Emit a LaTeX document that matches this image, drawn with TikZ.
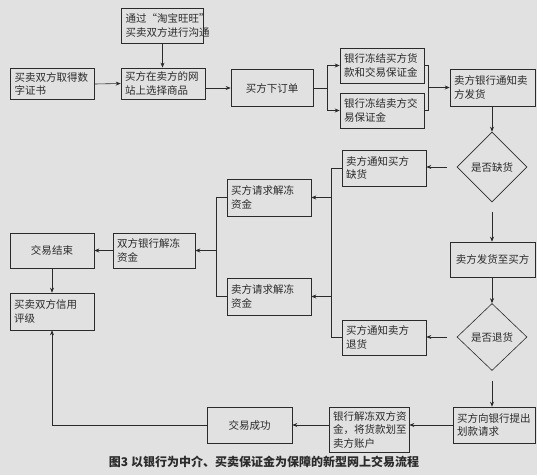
\documentclass[tikz,border=0pt]{standalone}
\usepackage{fontspec}
\setmainfont{Noto Sans CJK SC}
\usetikzlibrary{shapes.geometric,arrows.meta}
\definecolor{flInk}{HTML}{2B2B2B}
\definecolor{flPaper}{HTML}{E1E1E1}
\tikzset{
	box/.style={draw=flInk, line width=0.6pt, minimum height=35pt, inner sep=4pt,
		text width=76pt, align=left, text=flInk, font=\fontsize{10.5}{13.5}\selectfont},
	cbox/.style={box, align=center},
	decide/.style={diamond, draw=flInk, line width=0.6pt, aspect=1, inner sep=0pt,
		minimum width=70pt, minimum height=70pt, text=flInk, font=\fontsize{10.5}{13.5}\selectfont},
	arr/.style={draw=flInk, line width=0.6pt, -{Stealth[length=5pt,width=4pt]}},
	wire/.style={draw=flInk, line width=0.6pt}
}
\begin{document}
\begin{tikzpicture}[x=1pt,y=-1pt]
		\useasboundingbox (0,0) rectangle (543,475);
		\fill[white] (0,0) rectangle (543,475);
		\fill[flPaper] (0,0) rectangle (537,475);
		% top row
		\node[box, text width=74pt] (talk) at (162.5,25.5) {通过“淘宝旺旺”\\买卖双方进行沟通};
		\node[box, minimum height=29pt] (cert) at (52.5,84) {买卖双方取得数\\字证书};
		\node[box, minimum height=28pt] (choose) at (163,83.5) {买方在卖方的网\\站上选择商品};
		\node[cbox, text width=74pt, minimum height=37pt] (order) at (272,88) {买方下订单};
		\node[box] (frzbuy) at (382,65.5) {银行冻结买方货\\款和交易保证金};
		\node[box] (frzsell) at (382,110.5) {银行冻结卖方交\\易保证金};
		\node[box, text width=77pt, minimum height=37pt] (notify) at (492.5,87.5) {卖方银行通知卖\\方发货};
		% right column
		\node[decide] (lack) at (492,167) {是否缺货};
		\node[box, minimum height=36pt] (lacknote) at (384,168) {卖方通知买方\\缺货};
		\node[cbox, text width=77pt] (ship) at (492.5,259.5) {卖方发货至买方};
		\node[decide, minimum height=67pt] (ret) at (492,337) {是否退货};
		\node[box] (retnote) at (384,337.5) {买方通知卖方\\退货};
		\node[box, text width=74pt, minimum height=36pt] (payreq) at (494,425) {买方向银行提出\\划款请求};
		% middle and left
		\node[box, minimum height=37pt] (buyreq) at (269,197.5) {买方请求解冻\\资金};
		\node[box, minimum height=37pt] (sellreq) at (269,296.5) {卖方请求解冻\\资金};
		\node[box, text width=74pt] (unfreeze) at (154,250.5) {双方银行解冻\\资金};
		\node[cbox] (finish) at (52,250.5) {交易结束};
		\node[box, minimum height=37pt] (credit) at (52,311.5) {买卖双方信用\\评级};
		\node[box, text width=72pt, minimum height=45pt] (transfer) at (369,429.5) {银行解冻双方资\\金，将货款划至\\卖方账户};
		\node[cbox, text width=77pt, minimum height=36pt] (success) at (249.5,425) {交易成功};
		\coordinate (fkA) at (327,88);
		\coordinate (jnA) at (428,87.5);
		\coordinate (barT) at (331,168);
		\coordinate (barB) at (331,337.5);
		\coordinate (barL) at (216,250.5);
		% connectors
		\draw[arr] (talk) -- (talk |- choose.north);
		\draw[arr] (cert.east) -- (choose.west);
		\draw[arr] (choose.east |- order.west) -- (order.west);
		\draw[wire] (order.east) -- (fkA);
		\draw[arr] (fkA) |- (frzbuy.west);
		\draw[arr] (fkA) |- (frzsell.west);
		\draw[wire] (frzbuy.east) -| (jnA);
		\draw[wire] (frzsell.east) -| (jnA);
		\draw[arr] (jnA) -- (notify.west);
		\draw[arr] (notify.south -| lack.north) -- (lack.north);
		\draw[arr, shorten <=10pt] (lack.west) -- (lacknote.east |- lack.west);
		\draw[arr, shorten <=10pt] (lack.south) -- (ship.north -| lack.south);
		\draw[arr] (ship.south -| ret.north) -- (ret.north);
		\draw[arr, shorten <=10pt] (ret.west) -- (retnote.east |- ret.west);
		\draw[arr, shorten <=10pt] (ret.south) -- (payreq.north -| ret.south);
		\draw[wire] (lacknote.west) -- (barT) -- (barB) -- (retnote.west);
		\draw[arr] (barT |- buyreq.east) -- (buyreq.east);
		\draw[arr] (barT |- sellreq.east) -- (sellreq.east);
		\draw[wire] (buyreq.west) -| (barL);
		\draw[wire] (sellreq.west) -| (barL);
		\draw[arr] (barL) -- (unfreeze.east);
		\draw[arr] (unfreeze.west) -- (finish.east);
		\draw[arr] (finish.south -| credit.north) -- (credit.north);
		\draw[arr] (payreq.west) -- (payreq.west -| transfer.east);
		\draw[arr] (transfer.west |- success.east) -- (success.east);
		\draw[arr] (success.west) -| (credit.south);
		\node[font=\bfseries\fontsize{12}{14}\selectfont, text=flInk] (caption) at (264,462) {图3 以银行为中介、买卖保证金为保障的新型网上交易流程};
	\end{tikzpicture}
\end{document}
